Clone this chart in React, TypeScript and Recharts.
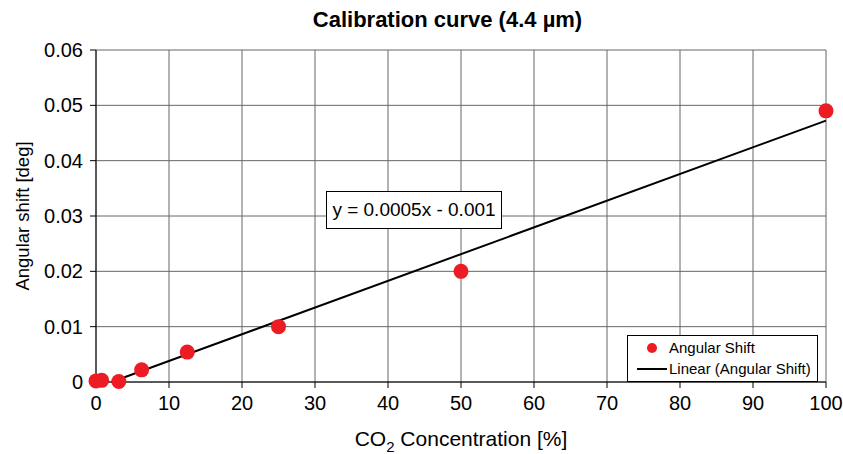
import React from 'react';
import {
  ComposedChart,
  Scatter,
  Line,
  XAxis,
  YAxis,
  CartesianGrid,
} from 'recharts';

// CO2 concentration [%] and measured angular shift [deg]
const concentration = [0, 0.78, 3.125, 6.25, 12.5, 25, 50, 100];
const angularShift = [0.0002, 0.0003, 0.0001, 0.0022, 0.0054, 0.01, 0.02, 0.049];

const xTicks = [0, 10, 20, 30, 40, 50, 60, 70, 80, 90, 100];
const yTicks = [0, 0.01, 0.02, 0.03, 0.04, 0.05, 0.06];

const points = concentration.map((x, i) => ({ x, y: angularShift[i] }));

// least squares fit, like the Excel trendline
const n = points.length;
const mx = concentration.reduce((a, b) => a + b, 0) / n;
const my = angularShift.reduce((a, b) => a + b, 0) / n;
let sxx = 0;
let sxy = 0;
points.forEach((p) => {
  sxx += (p.x - mx) * (p.x - mx);
  sxy += (p.x - mx) * (p.y - my);
});
const slope = sxy / sxx;
const intercept = my - slope * mx;
// trendline is clipped at the bottom of the axis (y = 0)
const xStart = -intercept / slope;
const trend = [xStart, 100].map((x) => ({ x, y: slope * x + intercept }));

const equation = `y = ${slope.toPrecision(1)}x - ${Math.abs(intercept).toPrecision(1)}`;

const FONT = 'Arial, "Liberation Sans", sans-serif';

const LegendBox = () => (
  <div
    style={{
      position: 'absolute',
      left: 627,
      top: 335,
      width: 191,
      height: 47,
      boxSizing: 'border-box',
      border: '1.5px solid #000',
      background: '#fff',
      fontFamily: FONT,
      fontSize: 15,
      color: '#000',
      padding: '1px 0 0 8px',
      lineHeight: '21px',
      whiteSpace: 'nowrap',
    }}
  >
    <div style={{ display: 'flex', alignItems: 'center' }}>
      <svg width={33} height={14}>
        <circle cx={16} cy={7} r={5} fill="#ED1C24" />
      </svg>
      <span>Angular Shift</span>
    </div>
    <div style={{ display: 'flex', alignItems: 'center' }}>
      <svg width={33} height={14}>
        <line x1={1} y1={7} x2={31} y2={7} stroke="#000" strokeWidth={2} />
      </svg>
      <span>Linear (Angular Shift)</span>
    </div>
  </div>
);

const XLabel = (props: any) => {
  const { viewBox } = props;
  const cx = viewBox.x + viewBox.width / 2;
  return (
    <text x={cx} y={446} textAnchor="middle" fontSize={21} fontFamily={FONT} fill="#000">
      CO
      <tspan fontSize={15} dy={6}>2</tspan>
      <tspan dy={-6}> Concentration [%]</tspan>
    </text>
  );
};

export default function App() {
  return (
    <div style={{ position: 'absolute', left: 0, top: 0, width: 843, height: 454, background: '#fff' }}>
      <div
        style={{
          position: 'absolute',
          left: 0,
          top: 7,
          width: 843,
          textAlign: 'center',
          paddingLeft: 52,
          boxSizing: 'border-box',
          fontFamily: FONT,
          fontWeight: 'bold',
          fontSize: 22,
        }}
      >
        Calibration curve (4.4 µm)
      </div>
      <ComposedChart
        width={843}
        height={454}
        data={points}
        margin={{ top: 50, right: 17, bottom: 42, left: 0 }}
      >
        <CartesianGrid stroke="#666" strokeWidth={1} />
        <XAxis
          type="number"
          dataKey="x"
          domain={[0, 100]}
          ticks={xTicks}
          interval={0}
          height={30}
          tickSize={6}
          tickMargin={8}
          stroke="#000"
          tick={{ fill: '#000', fontSize: 20, fontFamily: FONT }}
          label={<XLabel />}
        />
        <YAxis
          type="number"
          dataKey="y"
          domain={[0, 0.06]}
          ticks={yTicks}
          interval={0}
          width={96}
          tickSize={6}
          tickMargin={7}
          stroke="#000"
          tick={{ fill: '#000', fontSize: 20, fontFamily: FONT }}
          label={{
            value: 'Angular shift [deg]',
            angle: -90,
            position: 'insideLeft',
            offset: 22,
            style: { textAnchor: 'middle', fill: '#000', fontSize: 18.5, fontFamily: FONT },
          }}
        />
        <Line
          data={trend}
          dataKey="y"
          stroke="#000"
          strokeWidth={2}
          dot={false}
          activeDot={false}
          isAnimationActive={false}
          legendType="none"
        />
        <Scatter
          data={points}
          dataKey="y"
          fill="#ED1C24"
          isAnimationActive={false}
          shape={(p: any) => <circle cx={p.cx} cy={p.cy} r={7.5} fill="#ED1C24" />}
        />
      </ComposedChart>
      <LegendBox />
      <div
        style={{
          position: 'absolute',
          left: 326,
          top: 191,
          width: 176,
          height: 38,
          border: '1px solid #000',
          background: '#fff',
          boxSizing: 'border-box',
          fontFamily: FONT,
          fontSize: 19,
          lineHeight: '36px',
          textAlign: 'center',
          whiteSpace: 'nowrap',
        }}
      >
        {equation}
      </div>
    </div>
  );
}
